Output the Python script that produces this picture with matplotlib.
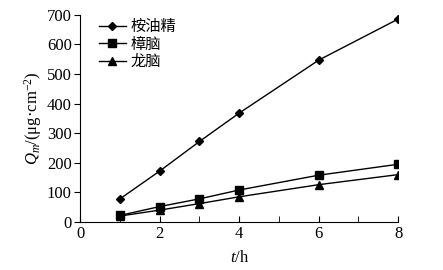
import matplotlib
matplotlib.use('Agg')
from matplotlib import pyplot as plt
from matplotlib.ticker import MultipleLocator

# Data
t = [1, 2, 3, 4, 6, 8]
anyoujing = [78, 172, 272, 368, 547, 686]   # 桉油精
zhangnao = [22, 52, 78, 108, 158, 195]      # 樟脑
longnao = [20, 40, 62, 85, 126, 160]        # 龙脑
labels = ['桉油精', '樟脑', '龙脑']

plt.rcParams['font.family'] = ['Liberation Serif', 'Noto Sans CJK SC']
plt.rcParams['mathtext.fontset'] = 'custom'
plt.rcParams['mathtext.rm'] = 'Liberation Serif'
plt.rcParams['mathtext.it'] = 'Liberation Serif:italic'

fig = plt.figure(figsize=(4.43, 2.7), dpi=100)
ax = fig.add_axes([0.181, 0.178, 0.718, 0.767])

ax.plot(t, anyoujing, color='black', lw=1, marker='D', ms=4, label=labels[0])
ax.plot(t, zhangnao, color='black', lw=1, marker='s', ms=6, label=labels[1])
ax.plot(t, longnao, color='black', lw=1, marker='^', ms=6, label=labels[2])

ax.set_xlim(0, 8)
ax.set_ylim(0, 700)
ax.xaxis.set_major_locator(MultipleLocator(2))
ax.xaxis.set_minor_locator(MultipleLocator(1))
ax.yaxis.set_major_locator(MultipleLocator(100))
ax.tick_params(axis='x', which='both', direction='in', length=4, labelsize=12, pad=3)
ax.tick_params(axis='y', direction='out', length=4, labelsize=12, pad=2)
ax.spines['top'].set_visible(False)
ax.spines['right'].set_visible(False)

ax.set_xlabel(r'$t$/h', fontsize=12, labelpad=6)
ax.set_ylabel(r'$Q_m$/(μg·cm$^{-2}$)', fontsize=12, labelpad=2)

leg = ax.legend(loc='upper left', bbox_to_anchor=(0.015, 1.04), frameon=False,
                handlelength=1.8, handletextpad=0.3, labelspacing=0.2, fontsize=11)

plt.savefig('out.png', dpi=100)
